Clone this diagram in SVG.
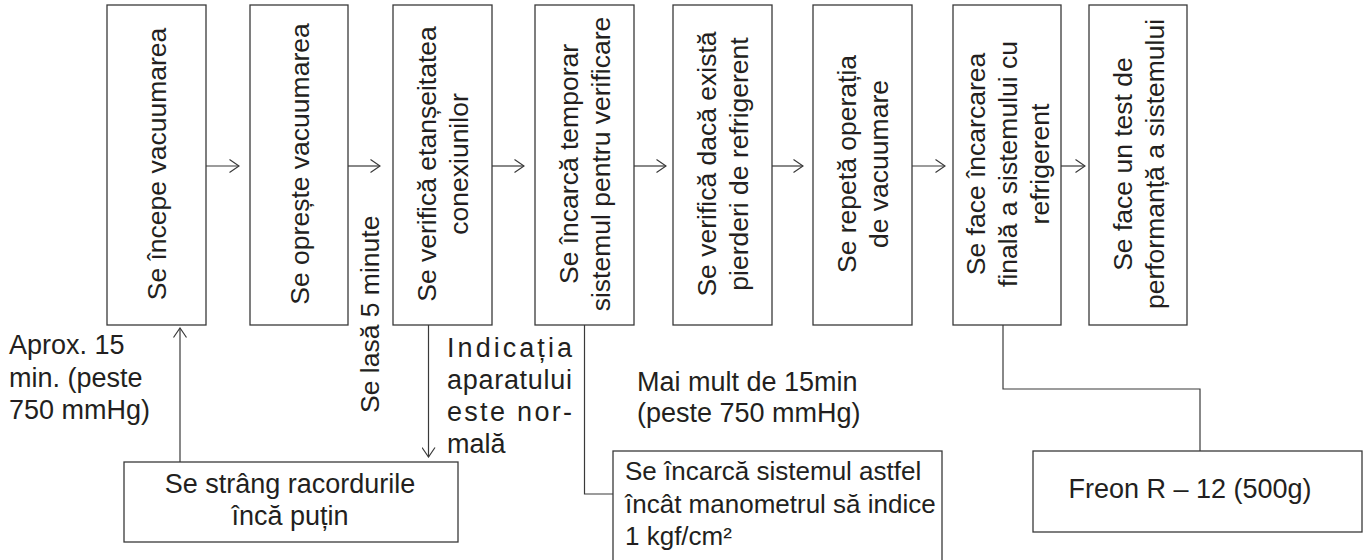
<svg xmlns="http://www.w3.org/2000/svg" width="1368" height="560" viewBox="0 0 1368 560">
<defs>
<style>
.box{fill:#fff;stroke:#3a3a3a;stroke-width:1.3}
.t{font-family:"Liberation Sans",Arial,sans-serif;font-size:26.5px;fill:#231f20}
.h{font-size:27px}
.s{font-size:26px}
.c{fill:none;stroke:#3a3a3a;stroke-width:1.2}
</style>
<marker id="ah" viewBox="0 0 11 14" refX="10" refY="7" markerWidth="11" markerHeight="14" markerUnits="userSpaceOnUse" orient="auto">
<path d="M0.5,0.5 L10,7 L0.5,13.5" fill="none" stroke="#3a3a3a" stroke-width="1.2"/>
</marker>
</defs>
<rect width="1368" height="560" fill="#fff"/>

<g id="n1">
<rect class="box" x="107" y="5" width="99" height="320"/>
<g transform="translate(156.5,164) rotate(-90)"><text class="t" text-anchor="middle"><tspan x="0" y="9.5">Se începe vacuumarea</tspan></text></g>
</g>
<g id="n2">
<rect class="box" x="250" y="5" width="98" height="320"/>
<g transform="translate(299,164) rotate(-90)"><text class="t" text-anchor="middle"><tspan x="0" y="9.5">Se oprește vacuumarea</tspan></text></g>
</g>
<g id="n3">
<rect class="box" x="393" y="5" width="99" height="320"/>
<g transform="translate(442.5,164) rotate(-90)"><text class="t" text-anchor="middle"><tspan x="0" y="-6.5">Se verifică etanșeitatea</tspan><tspan x="0" y="25.5">conexiunilor</tspan></text></g>
</g>
<g id="n4">
<rect class="box" x="535" y="5" width="99" height="320"/>
<g transform="translate(584.5,164) rotate(-90)"><text class="t" text-anchor="middle"><tspan x="0" y="-6.5">Se încarcă temporar</tspan><tspan x="0" y="25.5">sistemul pentru verificare</tspan></text></g>
</g>
<g id="n5">
<rect class="box" x="673" y="5" width="99" height="320"/>
<g transform="translate(722.5,164) rotate(-90)"><text class="t" text-anchor="middle"><tspan x="0" y="-6.5">Se verifică dacă există</tspan><tspan x="0" y="25.5">pierderi de refrigerent</tspan></text></g>
</g>
<g id="n6">
<rect class="box" x="813" y="5" width="99" height="320"/>
<g transform="translate(862.5,164) rotate(-90)"><text class="t" text-anchor="middle"><tspan x="0" y="-6.5">Se repetă operația</tspan><tspan x="0" y="25.5">de vacuumare</tspan></text></g>
</g>
<g id="n7">
<rect class="box" x="953" y="5" width="108" height="320"/>
<g transform="translate(1007,164) rotate(-90)"><text class="t" text-anchor="middle"><tspan x="0" y="-22.5">Se face încarcarea</tspan><tspan x="0" y="9.5">finală a sistemului cu</tspan><tspan x="0" y="41.5">refrigerent</tspan></text></g>
</g>
<g id="n8">
<rect class="box" x="1089" y="5" width="98" height="320"/>
<g transform="translate(1138,164) rotate(-90)"><text class="t" text-anchor="middle"><tspan x="0" y="-6.5">Se face un test de</tspan><tspan x="0" y="25.5">performanță a sistemului</tspan></text></g>
</g>
<g id="n9">
<rect class="box" x="124" y="462" width="334" height="80"/>
<text class="t h" text-anchor="middle"><tspan x="290" y="493">Se strâng racordurile</tspan><tspan x="290" y="525">încă puțin</tspan></text>
</g>
<g id="n10">
<rect class="box" x="613" y="451" width="329" height="120"/>
<text class="t s"><tspan x="625" y="480">Se încarcă sistemul astfel</tspan><tspan x="625" y="513">încât manometrul să indice</tspan><tspan x="625" y="545">1 kgf/cm²</tspan></text>
</g>
<g id="n11">
<rect class="box" x="1033" y="451" width="329" height="81"/>
<text class="t h" text-anchor="middle" x="1190" y="498">Freon R – 12 (500g)</text>
</g>

<g id="connectors">
<path class="c" marker-end="url(#ah)" d="M206,166 H239"/>
<path class="c" marker-end="url(#ah)" d="M348,166 H380"/>
<path class="c" marker-end="url(#ah)" d="M492,166 H524"/>
<path class="c" marker-end="url(#ah)" d="M634,166 H666"/>
<path class="c" marker-end="url(#ah)" d="M772,166 H803"/>
<path class="c" marker-end="url(#ah)" d="M912,166 H945"/>
<path class="c" marker-end="url(#ah)" d="M1061,166 H1085"/>
<path class="c" marker-end="url(#ah)" d="M180,462 V328"/>
<path class="c" marker-end="url(#ah)" d="M428.5,325 V457"/>
<path class="c" d="M584.5,325 V494 H613"/>
<path class="c" d="M1003,325 V389 H1200 V451"/>
</g>

<g id="labels">
<text class="t h"><tspan x="9" y="354">Aprox. 15</tspan><tspan x="9" y="387">min. (peste</tspan><tspan x="9" y="419">750 mmHg)</tspan></text>
<g transform="translate(379,413) rotate(-90)"><text class="t" x="0" y="0">Se lasă 5 minute</text></g>
<text class="t h"><tspan x="447" y="357" textLength="125" lengthAdjust="spacing">Indicația</tspan><tspan x="447" y="389" textLength="125" lengthAdjust="spacing">aparatului</tspan><tspan x="447" y="421" textLength="125" lengthAdjust="spacing">este nor-</tspan><tspan x="447" y="453">mală</tspan></text>
<text class="t h"><tspan x="637" y="391">Mai mult de 15min</tspan><tspan x="637" y="422">(peste 750 mmHg)</tspan></text>
</g>
</svg>
